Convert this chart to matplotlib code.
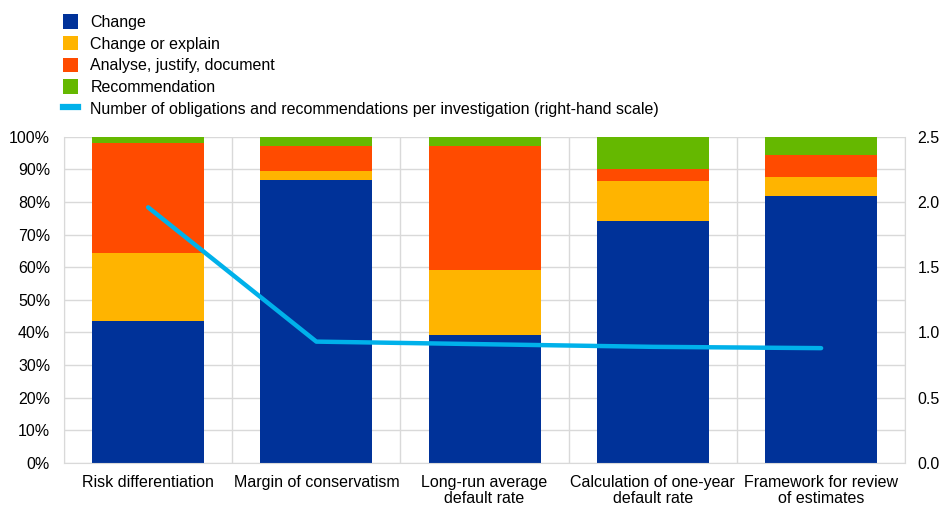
import matplotlib
matplotlib.use("Agg")
import matplotlib.pyplot as plt
from matplotlib.patches import Patch
from matplotlib.lines import Line2D
import numpy as np

plt.rcParams['font.family'] = ['Liberation Sans', 'DejaVu Sans']

categories = ["Risk differentiation", "Margin of conservatism", "Long-run average\ndefault rate",
              "Calculation of one-year\ndefault rate", "Framework for review\nof estimates"]
change = [43.4, 86.7, 39.3, 74.1, 81.9]
change_or_explain = [20.9, 2.8, 19.8, 12.3, 5.8]
analyse = [33.7, 7.7, 38.1, 3.9, 6.7]
recommendation = [2.0, 2.8, 2.8, 9.7, 5.6]
obligations = [1.96, 0.93, 0.91, 0.89, 0.88]

series_names = ["Change", "Change or explain", "Analyse, justify, document", "Recommendation"]
line_name = "Number of obligations and recommendations per investigation (right-hand scale)"
colors = ["#003299", "#ffb400", "#ff4b00", "#65b800"]
line_color = "#00b1ea"
fs = 11.5

fig = plt.figure(figsize=(9.41, 5.07), dpi=100)
ax = fig.add_axes([0.068, 0.087, 0.894, 0.643])
x = np.arange(len(categories))
bottom = np.zeros(len(categories))
for vals, c in zip([change, change_or_explain, analyse, recommendation], colors):
    ax.bar(x, vals, width=0.667, bottom=bottom, color=c, zorder=2)
    bottom += np.array(vals)

ax.set_xlim(-0.5, len(categories) - 0.5)
ax.set_ylim(0, 100)
ax.set_yticks(np.arange(0, 101, 10))
ax.set_yticklabels([f"{v}%" for v in range(0, 101, 10)])
ax.set_xticks(x)
ax.set_xticklabels(categories, linespacing=1.02)
ax.set_xticks(np.arange(-0.5, len(categories), 1.0), minor=True)
ax.grid(axis='y', which='major', color='#d9d9d9', linewidth=1, zorder=0)
ax.grid(axis='x', which='minor', color='#d9d9d9', linewidth=1, zorder=0)
ax.tick_params(axis='both', which='both', length=0, labelsize=fs, colors='#000000')
ax.tick_params(axis='x', pad=9)
ax.tick_params(axis='y', pad=10)
for s in ax.spines.values():
    s.set_color('#d9d9d9')
ax.spines['top'].set_visible(False)

ax2 = ax.twinx()
ax2.plot(x, obligations, color=line_color, linewidth=3.2, solid_capstyle='round', zorder=3)
ax2.set_ylim(0, 2.5)
ax2.set_yticks(np.arange(0, 2.51, 0.5))
ax2.set_yticklabels([f"{v:.1f}" for v in np.arange(0, 2.51, 0.5)])
ax2.tick_params(axis='y', length=0, labelsize=fs, pad=9)
for s in ax2.spines.values():
    s.set_visible(False)

handles = [Patch(facecolor=c, edgecolor='none') for c in colors]
handles.append(Line2D([0], [0], color=line_color, linewidth=4.5))
leg = fig.legend(handles, series_names + [line_name], loc='upper left',
                 bbox_to_anchor=(0.052, 1.0), frameon=False, fontsize=fs,
                 handlelength=0.9, handleheight=1.0, handletextpad=0.8, labelspacing=0.38)

fig.savefig("out.png", dpi=100)
